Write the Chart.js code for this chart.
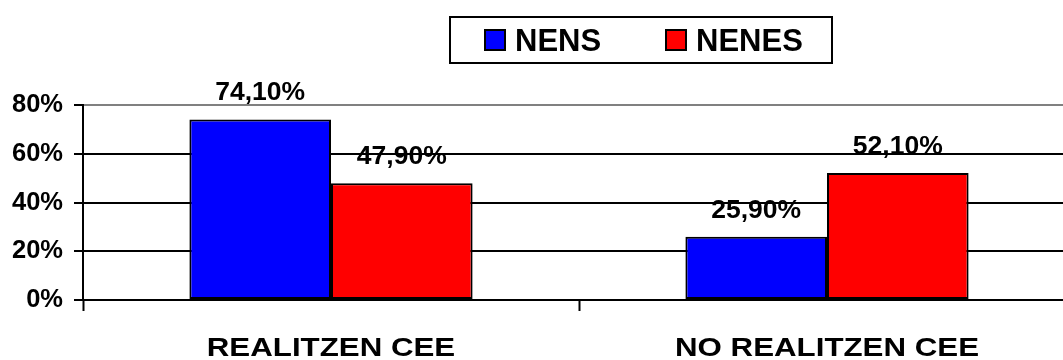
<!DOCTYPE html>
<html><head><meta charset="utf-8">
<script src="https://cdn.jsdelivr.net/npm/chart.js@4"></script>
<style>
html,body{margin:0;padding:0;overflow:hidden;background:#fff;width:1063px;height:360px}
#wrap{width:1090px;height:360px;position:relative}
</style></head>
<body><div id="wrap"><canvas id="c" width="1090" height="360"></canvas></div>
<script>
const categories = ['REALITZEN CEE', 'NO REALITZEN CEE'];
const seriesNames = ['NENS', 'NENES'];
const nensValues = [74.1, 25.9];
const nenesValues = [47.9, 52.1];
const seriesColors = ['#0000FF', '#FF0000'];
const yTickValues = [0, 20, 40, 60, 80];

const FONT = '"Liberation Sans", Arial, sans-serif';
const fmt = v => v.toFixed(2).replace('.', ',') + '%';

const deco = {
  id: 'deco',
  afterDatasetsDraw(chart) {
    const ctx = chart.ctx;
    ctx.save();
    ctx.fillStyle = '#000';
    ctx.textAlign = 'center';
    ctx.textBaseline = 'alphabetic';
    ctx.font = 'bold 26.5px ' + FONT;
    chart.data.datasets.forEach((ds, di) => {
      chart.getDatasetMeta(di).data.forEach((bar, i) => {
        ctx.fillText(fmt(ds.data[i]), bar.x, bar.y - 19);
      });
    });
    // category labels
    const xs = chart.scales.x;
    ctx.font = 'bold 26.5px ' + FONT;
    categories.forEach((c, i) => {
      const x = xs.getPixelForValue(i);
      ctx.save();
      ctx.translate(x, 356);
      ctx.scale(1.18, 1);
      ctx.fillText(c, 0, 0);
      ctx.restore();
    });
    // legend
    ctx.lineWidth = 2;
    ctx.strokeStyle = '#000';
    ctx.fillStyle = '#fff';
    ctx.fillRect(450, 17, 382, 46);
    ctx.strokeRect(450, 17, 382, 46);
    const items = [{x: 485, tx: 515}, {x: 666, tx: 696}];
    ctx.font = 'bold 31px ' + FONT;
    ctx.textAlign = 'left';
    seriesNames.forEach((n, i) => {
      ctx.fillStyle = seriesColors[i];
      ctx.fillRect(items[i].x, 30, 20, 20);
      ctx.strokeRect(items[i].x, 30, 20, 20);
      ctx.fillStyle = '#000';
      ctx.fillText(n, items[i].tx, 51);
    });
    ctx.restore();
  }
};

new Chart(document.getElementById('c'), {
  type: 'bar',
  data: {
    labels: categories,
    datasets: [
      {label: seriesNames[0], data: nensValues, backgroundColor: seriesColors[0], borderColor: '#000', borderWidth: 2, borderSkipped: false},
      {label: seriesNames[1], data: nenesValues, backgroundColor: seriesColors[1], borderColor: '#000', borderWidth: 2, borderSkipped: false}
    ]
  },
  options: {
    responsive: false,
    animation: false,
    devicePixelRatio: 1,
    layout: {padding: {top: 105, left: 0, right: 15, bottom: 0}},
    datasets: {bar: {categoryPercentage: 0.571, barPercentage: 1}},
    plugins: {legend: {display: false}, tooltip: {enabled: false}, title: {display: false}},
    scales: {
      x: {
        offset: true,
        grid: {display: true, offset: true, drawOnChartArea: false, drawTicks: true, tickLength: 11, tickColor: '#000', tickWidth: 2},
        border: {display: true, color: '#000', width: 2},
        ticks: {color: 'rgba(0,0,0,0)', font: {size: 20, weight: 'bold', family: FONT}},
        afterFit: s => { s.height = 60; }
      },
      y: {
        min: 0, max: 80,
        afterBuildTicks: s => { s.ticks = yTickValues.map(v => ({value: v})); },
        grid: {
          color: c => (c.tick && c.tick.value === 80) ? '#808080' : '#000',
          lineWidth: 2, drawTicks: true, tickLength: 9, tickColor: '#000', tickWidth: 2
        },
        border: {display: true, color: '#000', width: 2},
        ticks: {
          padding: 11, color: '#000',
          font: {size: 25.5, weight: 'bold', family: FONT},
          callback: v => v + '%'
        },
        afterFit: s => { s.width = 83; }
      }
    }
  },
  plugins: [deco]
});
</script>
</body></html>
